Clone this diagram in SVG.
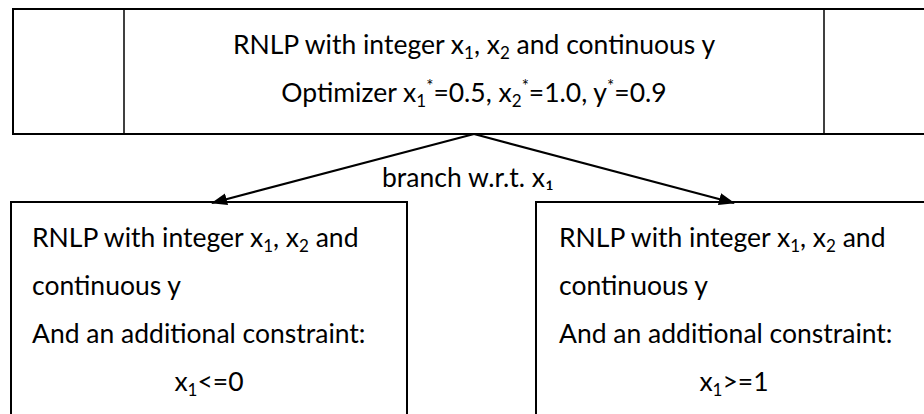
<svg xmlns="http://www.w3.org/2000/svg" width="924" height="414" viewBox="0 0 924 414">
  <style>
    .box { fill: #fff; stroke: #000; stroke-width: 2; }
    .div { stroke: #000; stroke-width: 1.5; }
    .edge { stroke: #000; stroke-width: 2.2; fill: none; }
    text { font-family: Lato, "Liberation Sans", sans-serif; fill: #000; font-size: 26.5px; }
    .s { font-size: 17px; }
  </style>
  <defs>
    <marker id="arrow" markerWidth="16" markerHeight="12" refX="15" refY="6" orient="auto" markerUnits="userSpaceOnUse">
      <path d="M0,0 L16,6 L0,12 Z" fill="#000"/>
    </marker>
  </defs>

  <!-- root relaxation -->
  <g id="root">
    <rect class="box" x="13" y="9" width="923" height="125"/>
    <line class="div" x1="124" y1="9" x2="124" y2="134"/>
    <line class="div" x1="824" y1="9" x2="824" y2="134"/>
    <text x="474" y="54" text-anchor="middle">RNLP with integer x<tspan class="s" dy="5">1</tspan><tspan dy="-5">, x</tspan><tspan class="s" dy="5">2</tspan><tspan dy="-5"> and continuous y</tspan></text>
    <text x="474" y="102" text-anchor="middle">Optimizer x<tspan class="s" dy="5">1</tspan><tspan class="s" dy="-15">*</tspan><tspan dy="10">=0.5, x</tspan><tspan class="s" dy="5">2</tspan><tspan class="s" dy="-15">*</tspan><tspan dy="10">=1.0, y</tspan><tspan class="s" dy="-10">*</tspan><tspan dy="10">=0.9</tspan></text>
  </g>

  <!-- branch x1 <= 0 -->
  <g id="left">
    <rect class="box" x="11" y="202" width="396" height="230"/>
    <text x="32" y="247">RNLP with integer x<tspan class="s" dy="5">1</tspan><tspan dy="-5">, x</tspan><tspan class="s" dy="5">2</tspan><tspan dy="-5"> and</tspan></text>
    <text x="32" y="295">continuous y</text>
    <text x="32" y="343">And an additional constraint:</text>
    <text x="209" y="391" text-anchor="middle">x<tspan class="s" dy="5">1</tspan><tspan dy="-5">&lt;=0</tspan></text>
  </g>

  <!-- branch x1 >= 1 -->
  <g id="right">
    <rect class="box" x="536" y="202" width="396" height="230"/>
    <text x="559" y="247">RNLP with integer x<tspan class="s" dy="5">1</tspan><tspan dy="-5">, x</tspan><tspan class="s" dy="5">2</tspan><tspan dy="-5"> and</tspan></text>
    <text x="559" y="295">continuous y</text>
    <text x="559" y="343">And an additional constraint:</text>
    <text x="734" y="391" text-anchor="middle">x<tspan class="s" dy="5">1</tspan><tspan dy="-5">&gt;=1</tspan></text>
  </g>

  <!-- branching connectors -->
  <g id="connectors">
    <line class="edge" x1="474" y1="134" x2="212" y2="203" marker-end="url(#arrow)"/>
    <line class="edge" x1="474" y1="134" x2="734" y2="203" marker-end="url(#arrow)"/>
    <text x="382" y="187">branch w.r.t. x₁</text>
  </g>
</svg>
